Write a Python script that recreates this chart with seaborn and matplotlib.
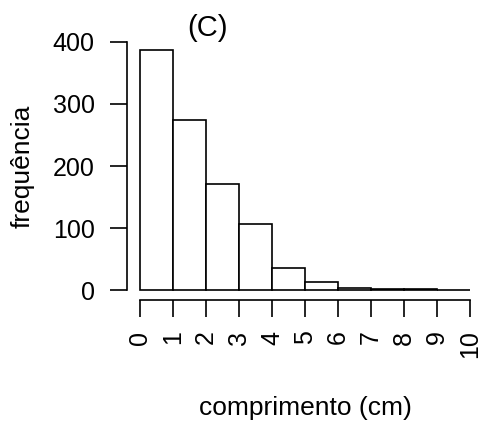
import numpy as np
import pandas as pd
import matplotlib
matplotlib.use("Agg")
import matplotlib.pyplot as plt
import seaborn as sns

# histogram counts, one per 1 cm bin
bin_edges = [0, 1, 2, 3, 4, 5, 6, 7, 8, 9, 10]
counts = [387, 274, 171, 107, 36, 13, 4, 1, 1, 0]
x_ticks = [0, 1, 2, 3, 4, 5, 6, 7, 8, 9, 10]
y_ticks = [0, 100, 200, 300, 400]

sns.set_theme(style="white")
plt.rcParams["font.family"] = ["Liberation Sans", "DejaVu Sans"]
plt.rcParams["text.color"] = "black"
plt.rcParams["axes.labelcolor"] = "black"

data = pd.DataFrame({
    "comprimento": [(a + b) / 2 for a, b in zip(bin_edges[:-1], bin_edges[1:])],
    "n": counts,
})

fig = plt.figure(figsize=(4.87, 4.29), dpi=100)
ax = fig.add_axes([0.2604, 0.3007, 0.7318, 0.6247])

sns.histplot(
    data=data,
    x="comprimento",
    weights="n",
    bins=bin_edges,
    color="white",
    edgecolor="black",
    linewidth=1.2,
    alpha=1,
    ax=ax,
)

ax.set_xlim(-0.4, 10.4)
ax.set_ylim(-16, 416)

# R-like detached axes
for side in ["top", "right"]:
    ax.spines[side].set_visible(False)
for side in ["left", "bottom"]:
    ax.spines[side].set_linewidth(1.2)
    ax.spines[side].set_color("black")
ax.spines["left"].set_bounds(0, 400)
ax.spines["bottom"].set_bounds(0, 10)

ax.set_xticks(x_ticks)
ax.set_xticklabels([str(t) for t in x_ticks], rotation=90)
ax.set_yticks(y_ticks)
ax.set_yticklabels([str(t) for t in y_ticks])
ax.tick_params(axis="both", which="major", direction="out", length=12, width=1.2,
               color="black", labelsize=18, labelcolor="black")
ax.tick_params(axis="x", pad=10, bottom=True)
ax.tick_params(axis="y", pad=11, left=True)

ax.set_xlabel("comprimento (cm)", fontsize=19, labelpad=27, color="black")
ax.set_ylabel("frequência", fontsize=19, labelpad=13, color="black")
ax.text(2.03, 423, "(C)", fontsize=21, ha="center", va="center", clip_on=False,
        color="black")
ax.grid(False)

fig.savefig("out.png", dpi=100, facecolor="white")
